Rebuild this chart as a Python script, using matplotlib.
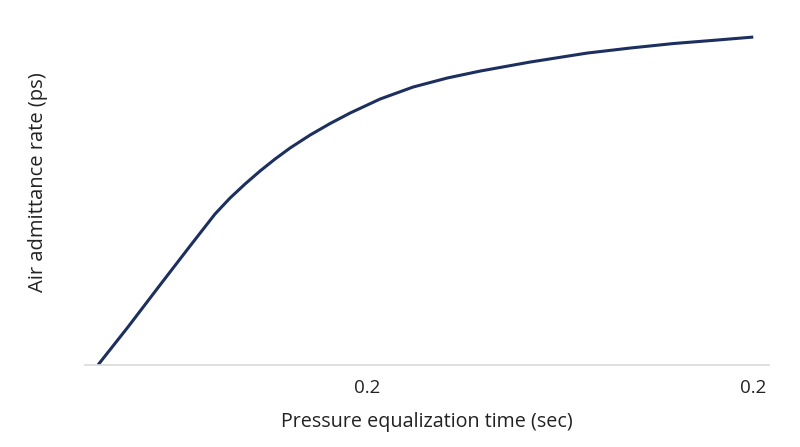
import matplotlib
matplotlib.use("Agg")
import matplotlib.pyplot as plt

# curve (arbitrary units, 0..100)
time = [0, 4.58, 9.47, 14.05, 17.86, 20.15, 22.44, 24.73, 27.02, 29.31,
        32.37, 35.42, 38.47, 43.05, 48.09, 53.28, 58.32, 65.95, 74.66,
        81.22, 87.79, 94.50, 100]
rate = [0, 11.59, 24.39, 36.28, 46.04, 50.91, 55.18, 59.15, 62.80, 66.16,
        70.12, 73.63, 76.83, 81.10, 84.76, 87.50, 89.63, 92.38, 95.12,
        96.65, 98.02, 99.09, 100]
tick_pos = [41.1, 100]
tick_labels = ["0.2", "0.2"]

plt.rcParams['font.family'] = ['Open Sans', 'DejaVu Sans']

fig = plt.figure(figsize=(8, 4.47), dpi=100)
ax = fig.add_axes([85 / 800, 82 / 447, 684 / 800, 345 / 447])

ax.plot(time, rate, color='#1c2f5e', lw=2.2, solid_joinstyle='round',
        solid_capstyle='butt')

ax.set_xlim(-1.98, 102.4)
ax.set_ylim(0, 105.2)

for s in ['top', 'right', 'left']:
    ax.spines[s].set_visible(False)
ax.spines['bottom'].set_color('#d9d9d9')
ax.spines['bottom'].set_linewidth(1.2)

ax.set_xticks(tick_pos)
ax.set_xticklabels(tick_labels, fontsize=13.5, color='#222222')
ax.tick_params(axis='x', length=0, pad=10)
ax.set_yticks([])

ax.set_xlabel('Pressure equalization time (sec)', fontsize=14.2, color='#222222', labelpad=11)
fig.text(38 / 800, 1 - 182 / 447, 'Air admittance rate (ps)', rotation=90,
         fontsize=14.5, color='#222222', ha='center', va='center')

fig.savefig('out.png', dpi=100)
